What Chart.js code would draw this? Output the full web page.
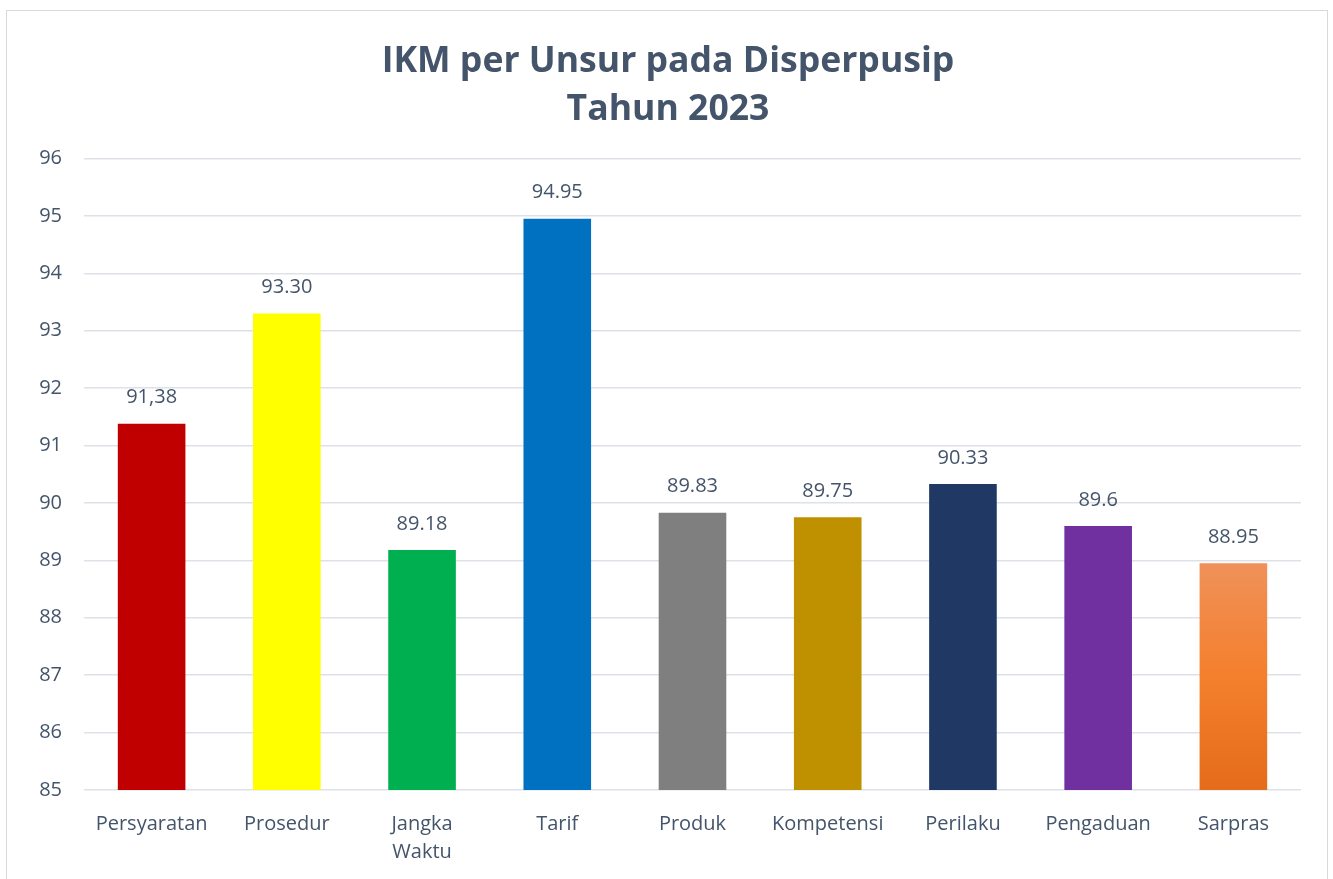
<!DOCTYPE html>
<html>
<head>
<meta charset="utf-8">
<script src="https://cdn.jsdelivr.net/npm/chart.js@4.4.0/dist/chart.umd.min.js"></script>
<style>
  html, body { margin: 0; padding: 0; background: #fff; overflow: hidden; }
  #frame { position: absolute; left: 6px; top: 10px; width: 1322px; height: 900px;
           border: 1.5px solid #D9D9D9; box-sizing: border-box; }
  #wrap { position: absolute; left: 0; top: 0; width: 1333px; height: 879px; }
</style>
</head>
<body>
<div id="frame"></div>
<div id="wrap"><canvas id="chart"></canvas></div>
<script>
// ─── Data ─────────────────────────────────────────────────────────
const categories = ['Persyaratan', 'Prosedur', ['Jangka', 'Waktu'], 'Tarif', 'Produk',
                    'Kompetensi', 'Perilaku', 'Pengaduan', 'Sarpras'];
const ikmValues = [91.38, 93.30, 89.18, 94.95, 89.83, 89.75, 90.33, 89.6, 88.95];
const valueLabels = ['91,38', '93.30', '89.18', '94.95', '89.83', '89.75', '90.33', '89.6', '88.95'];
const yTicks = [85, 86, 87, 88, 89, 90, 91, 92, 93, 94, 95, 96];

const barColors = ['#C00000', '#FFFF00', '#00B050', '#0070C0', '#7F7F7F',
                   '#BF9000', '#203864', '#7030A0', null];

const textColor = '#44546A';
const fontFamily = "'Open Sans', sans-serif";

// ─── Sarpras bar uses an orange gradient ──────────────────────────
function barFill(ctx) {
    const c = barColors[ctx.dataIndex];
    if (c) return c;
    const chart = ctx.chart;
    const area = chart.chartArea;
    if (!area) return '#F27E2E';
    const top = chart.scales.y.getPixelForValue(ikmValues[ctx.dataIndex]);
    const g = chart.ctx.createLinearGradient(0, top, 0, area.bottom);
    g.addColorStop(0, '#F0915A');
    g.addColorStop(0.5, '#F47F2C');
    g.addColorStop(1, '#E46C1A');
    return g;
}

// ─── Value labels above the bars ──────────────────────────────────
const valueLabelPlugin = {
    id: 'valueLabels',
    afterDatasetsDraw(chart) {
        const ctx = chart.ctx;
        const meta = chart.getDatasetMeta(0);
        ctx.save();
        ctx.font = '20px ' + fontFamily;
        ctx.fillStyle = textColor;
        ctx.textAlign = 'center';
        ctx.textBaseline = 'middle';
        meta.data.forEach((bar, i) => {
            ctx.fillText(valueLabels[i], bar.x, bar.y - 26);
        });
        ctx.restore();
    },
};

new Chart(document.getElementById('chart'), {
    type: 'bar',
    data: {
        labels: categories,
        datasets: [{
            data: ikmValues,
            backgroundColor: barFill,
            borderWidth: 0,
            barPercentage: 0.5,
            categoryPercentage: 1,
        }],
    },
    plugins: [valueLabelPlugin],
    options: {
        responsive: true,
        maintainAspectRatio: false,
        animation: false,
        layout: { padding: { left: 3, right: 0, top: 0, bottom: 0 } },
        plugins: {
            legend: { display: false },
            tooltip: { enabled: false },
            title: {
                display: true,
                text: ['IKM per Unsur pada Disperpusip', 'Tahun 2023'],
                color: textColor,
                font: { family: fontFamily, size: 35.6, weight: 'bold', lineHeight: 1.355 },
                padding: { top: 38, bottom: 24 },
            },
        },
        scales: {
            x: {
                grid: { display: false },
                border: { display: false },
                ticks: {
                    color: textColor,
                    font: { family: fontFamily, size: 20, lineHeight: 1.4 },
                    padding: 12,
                    maxRotation: 0,
                    autoSkip: false,
                },
                afterFit: (scale) => { scale.height = 89; },
            },
            y: {
                min: 85,
                max: 96,
                afterBuildTicks: (scale) => { scale.ticks = yTicks.map((v) => ({ value: v })); },
                grid: { color: '#DDE2E8', lineWidth: 1.5, drawTicks: false },
                border: { display: false },
                ticks: {
                    color: textColor,
                    font: { family: fontFamily, size: 20 },
                    padding: 22,
                },
                afterFit: (scale) => { scale.width = 81; },
            },
            // empty right-hand strip so the title centres on the whole frame
            yRight: {
                position: 'right',
                min: 85,
                max: 96,
                grid: { display: false },
                border: { display: false },
                ticks: { display: false },
                afterFit: (scale) => { scale.width = 32; },
            },
        },
    },
});
</script>
</body>
</html>
